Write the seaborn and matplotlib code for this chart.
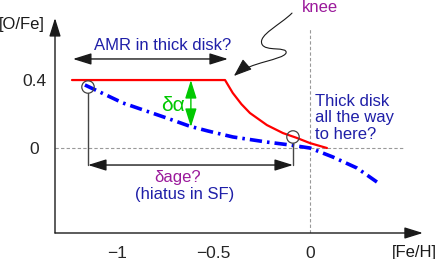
import matplotlib
matplotlib.use("Agg")
import matplotlib.pyplot as plt
import seaborn as sns
import pandas as pd
from matplotlib.path import Path
from matplotlib.patches import FancyArrowPatch

# thin disk-like red track with a knee
red_feh = [-1.233, -0.44, -0.40, -0.355, -0.311, -0.223, -0.140, -0.067, 0.0, 0.088]
red_ofe = [0.40, 0.40, 0.324, 0.258, 0.206, 0.135, 0.088, 0.059, 0.029, 0.0]

# blue dash-dot thick disk track
blue_feh = [-1.166, -0.969, -0.741, -0.622, -0.528, -0.399, -0.223, -0.104, 0.0, 0.119, 0.244, 0.347]
blue_ofe = [0.371, 0.265, 0.176, 0.128, 0.100, 0.065, 0.035, 0.018, 0.0, -0.053, -0.118, -0.2]

# circled points
circ_feh = [-1.150, -0.088]
circ_ofe = [0.359, 0.065]

xticks = [-1, -0.5, 0]
xticklabels = ["\u22121", "\u22120.5", "0"]
yticks = [0, 0.4]
yticklabels = ["0", "0.4"]

BLUE_TXT = "#1f1fa8"
PURPLE = "#9b1a9b"
GREEN = "#00c800"
GRAY = "#444444"

sns.set_theme(style="white")
plt.rcParams["font.family"] = ["Liberation Sans", "DejaVu Sans"]
plt.rcParams["font.size"] = 12

fig = plt.figure(figsize=(4.36, 2.59), dpi=100)
ax = fig.add_axes([55 / 436, 26 / 259, 381 / 436, 233 / 259])
ax.set_xlim(-1.321, 0.653)
ax.set_ylim(-0.5, 0.871)
for s in ax.spines.values():
    s.set_visible(False)

red_df = pd.DataFrame({"feh": red_feh, "ofe": red_ofe})
blue_df = pd.DataFrame({"feh": blue_feh, "ofe": blue_ofe})

# dashed guides
ax.plot([0, 0], [-0.5, 0.706], ls=(0, (3, 2)), color="#999999", lw=0.8)
ax.plot([-1.321, 0.482], [0, 0], ls=(0, (3, 2)), color="#999999", lw=0.8)

sns.lineplot(data=red_df, x="feh", y="ofe", sort=False, estimator=None,
             color="#ff0000", lw=1.6, ax=ax)
sns.lineplot(data=blue_df, x="feh", y="ofe", sort=False, estimator=None,
             color="#0000ff", lw=2.6, ax=ax, dashes=False)
ax.lines[-1].set_dashes((3.4, 1.4, 0.7, 1.4))

ax.scatter(circ_feh, circ_ofe, s=80, facecolors="none", edgecolors=GRAY, lw=0.9, zorder=5)

# axes arrows
ax.annotate("", xy=(-1.321, 0.765), xytext=(-1.321, -0.5), annotation_clip=False,
            arrowprops=dict(arrowstyle="-|>,head_length=0.8,head_width=0.25", mutation_scale=14,
                            color="k", lw=1, shrinkA=0, shrinkB=0))
ax.annotate("", xy=(0.585, -0.5), xytext=(-1.321, -0.5), annotation_clip=False,
            arrowprops=dict(arrowstyle="-|>,head_length=0.8,head_width=0.25", mutation_scale=14,
                            color="k", lw=1, shrinkA=0, shrinkB=0))

dbl = dict(arrowstyle="<|-|>,head_length=0.8,head_width=0.25", mutation_scale=14,
           color="k", lw=1, shrinkA=0, shrinkB=0)
# AMR arrow
ax.annotate("", xy=(-1.228, 0.524), xytext=(-0.425, 0.524), arrowprops=dbl)
# delta age arrow with drop lines
ax.plot([circ_feh[0], circ_feh[0]], [circ_ofe[0] - 0.035, -0.1], color=GRAY, lw=1)
ax.plot([circ_feh[1], circ_feh[1]], [circ_ofe[1] - 0.035, -0.1], color=GRAY, lw=1)
ax.annotate("", xy=(circ_feh[0], -0.1), xytext=(circ_feh[1], -0.1), arrowprops=dbl)
# delta alpha arrow
ax.annotate("", xy=(-0.617, 0.4), xytext=(-0.617, 0.124),
            arrowprops=dict(arrowstyle="<|-|>,head_length=0.8,head_width=0.25", mutation_scale=14,
                            color=GREEN, lw=1, shrinkA=0, shrinkB=0))

# wiggly knee arrow
verts = [(-0.093, 0.794), (-0.155, 0.724), (-0.269, 0.665), (-0.249, 0.612),
         (-0.233, 0.565), (-0.114, 0.600), (-0.124, 0.559),
         (-0.140, 0.518), (-0.311, 0.506), (-0.394, 0.424)]
codes = [Path.MOVETO] + [Path.CURVE4] * 9
ax.add_patch(FancyArrowPatch(path=Path(verts, codes),
                             arrowstyle="-|>,head_length=0.8,head_width=0.3", mutation_scale=14,
                             color="k", lw=0.8))

# texts
ax.text(-0.762, 0.606, "AMR in thick disk?", color=BLUE_TXT, ha="center", va="center")
ax.text(-0.710, 0.253, "\u03b4\u03b1", color=GREEN, ha="center", va="center", fontsize=15)
ax.text(-0.684, -0.171, "\u03b4age?", color=PURPLE, ha="center", va="center")
ax.text(-0.648, -0.276, "(hiatus in SF)", color=BLUE_TXT, ha="center", va="center")
ax.text(0.026, 0.318, "Thick disk\nall the way\nto here?", color=BLUE_TXT, ha="left", va="top",
        linespacing=1.12)
ax.text(-0.041, 0.829, "knee", color=PURPLE, ha="left", va="center")
ax.text(-1.492, 0.724, "[O/Fe]", color="k", ha="center", va="center")
ax.text(0.539, -0.612, "[Fe/H]", color="k", ha="center", va="center")

ax.set_xticks(xticks)
ax.set_xticklabels(xticklabels)
ax.set_yticks(yticks)
ax.set_yticklabels(yticklabels, ha="center")
ax.tick_params(axis="x", length=0, pad=9, labelsize=12.5)
ax.tick_params(axis="y", length=0, pad=15, labelsize=12.5)
ax.set_xlabel("")
ax.set_ylabel("")

fig.savefig("out.png", dpi=100)
